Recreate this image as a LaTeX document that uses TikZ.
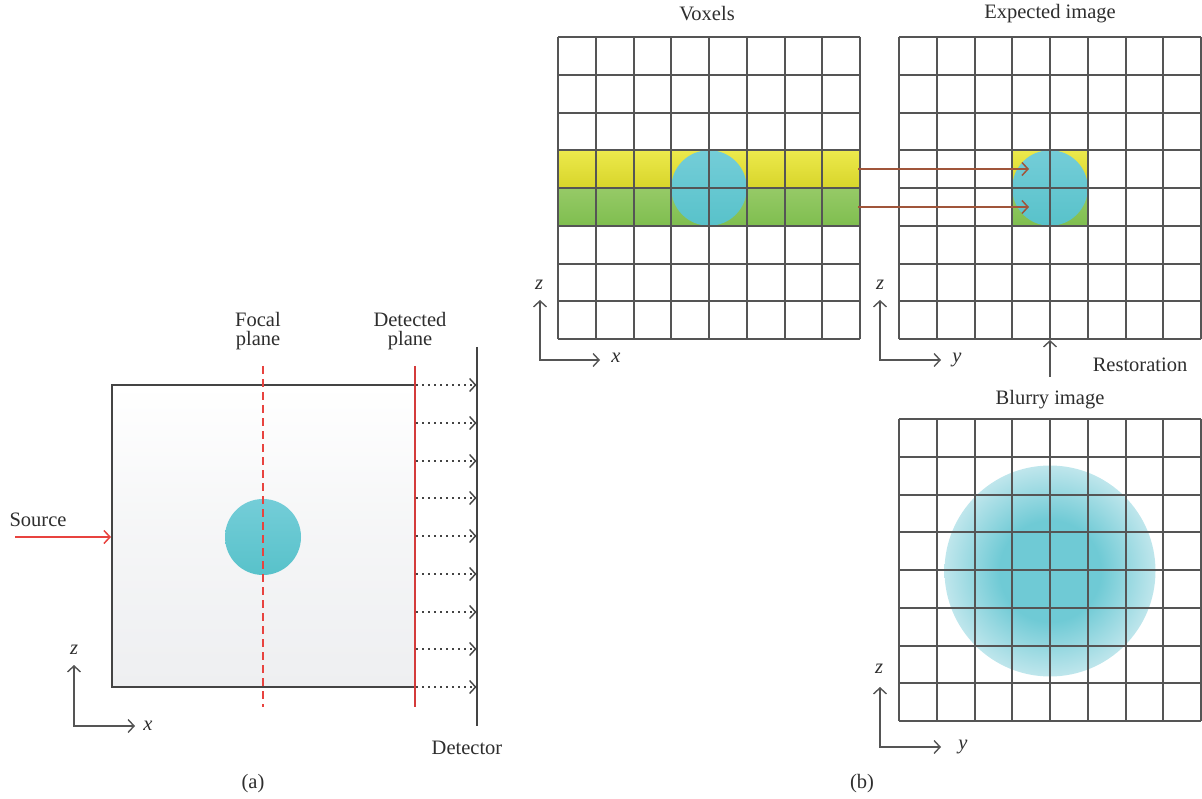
\documentclass[tikz,border=0pt]{standalone}
\usepackage{fontspec}
\setmainfont{Liberation Serif}
\usetikzlibrary{arrows.meta}
\definecolor{gridc}{HTML}{555555}
\definecolor{darkc}{HTML}{444444}
\definecolor{redc}{HTML}{E8433F}
\definecolor{redd}{HTML}{D43B3B}
\definecolor{brownc}{HTML}{A0553A}
\definecolor{tealtop}{HTML}{74CDD8}
\definecolor{tealbot}{HTML}{58C2CA}
\definecolor{yeltop}{HTML}{ECE94C}
\definecolor{yelbot}{HTML}{D8D52A}
\definecolor{grntop}{HTML}{96CA67}
\definecolor{grnbot}{HTML}{7FBE4F}
\definecolor{boxbot}{HTML}{EEEFF1}
\definecolor{blurin}{HTML}{6FCAD5}
\definecolor{blurout}{HTML}{BFE6EC}
\pgfdeclareradialshading{blurshade}{\pgfpoint{0bp}{0bp}}{color(0bp)=(blurin); color(12bp)=(blurin); color(25bp)=(blurout); color(50bp)=(blurout)}
\newcommand\vgrid[2]{%
  \foreach \i in {0,...,8} {
    \pgfmathsetmacro\gx{round(#1+\i*37.75)}
    \pgfmathsetmacro\gy{round(#2+\i*37.75)}
    \draw[gridline] (\gx,#2) -- (\gx,{#2+302});
    \draw[gridline] (#1,\gy) -- ({#1+302},\gy);
  }}
\begin{document}
\begin{tikzpicture}[x=1pt,y=-1pt,
  lbl/.style={font=\fontsize{20.5}{19}\selectfont, inner sep=0pt, text=black!82},
  gridline/.style={draw=gridc, line width=1.4pt},
  tip/.style={-{Straight Barb[length=6pt,width=13pt]}},
  axis/.style={draw=gridc, line width=1.4pt, {Straight Barb[length=6pt,width=13pt]}-{Straight Barb[length=6pt,width=13pt]}},
  dotarrow/.style={tip, draw=darkc, line width=1.4pt, dash pattern=on 1.8pt off 4.2pt},
  brarrow/.style={tip, draw=brownc, line width=1.5pt}]
\useasboundingbox (0,0) rectangle (1202,799);

% ---------- panel (a) ----------
\shade[top color=white, bottom color=boxbot, middle color=boxbot!60!white] (112,385) rectangle (415,687);
\draw[darkc, line width=1.6pt] (415,385) -- (112,385) -- (112,687) -- (415,687);
\shade[top color=tealtop, bottom color=tealbot] (263,537) circle (38pt);
\draw[redc, line width=1.5pt, dash pattern=on 8pt off 5pt] (263,366) -- (263,707);
\draw[redd, line width=1.8pt] (415,366) -- (415,707);
\draw[darkc, line width=1.6pt] (477,347) -- (477,726);
\foreach \k in {0,...,8} {
  \coordinate (ds\k) at (416,{round(385+\k*37.75)});
  \coordinate (de\k) at (476.5,{round(385+\k*37.75)});
  \draw[dotarrow] (ds\k) -- (de\k);
}
\coordinate (srcA) at (15,537);
\coordinate (srcB) at (111,537);
\draw[tip, redc, line width=1.5pt] (srcA) -- (srcB);
\node[lbl] (src) at (38,520) {Source};
\node[lbl, align=center] (focal) at (258,331) {Focal\\plane};
\node[lbl, align=center] (detp) at (410,331) {Detected\\plane};
\node[lbl] (detector) at (467,748) {Detector};
\node[lbl] (pa) at (253,784) {(a)};
\coordinate (ao) at (74,726);
\draw[axis] (74,665) -- (ao) -- (135,726);
\node[lbl] (az) at (74,650) {\textit{z}};
\node[lbl] (ax) at (148,726) {\textit{x}};

% ---------- Voxels ----------
\shade[top color=yeltop, bottom color=yelbot] (558,150.25) rectangle (860,188);
\shade[top color=grntop, bottom color=grnbot] (558,188) rectangle (860,225.75);
\shade[top color=tealtop, bottom color=tealbot] (709,188) circle (37.75pt);
\vgrid{558}{37}
\node[lbl] (vox) at (707,14) {Voxels};
\draw[axis] (540,300) -- (540,360) -- (600,360);
\node[lbl] (vz) at (539,285) {\textit{z}};
\node[lbl] (vx) at (616,358) {\textit{x}};

% ---------- Expected image ----------
\shade[top color=yeltop, bottom color=yelbot] (1012.25,150.25) rectangle (1087.75,188);
\shade[top color=grntop, bottom color=grnbot] (1012.25,188) rectangle (1087.75,225.75);
\shade[top color=tealtop, bottom color=tealbot] (1050,188) circle (37.75pt);
\vgrid{899}{37}
\node[lbl] (exp) at (1050,14) {Expected image};
\draw[axis] (880,300) -- (880,360) -- (941,360);
\node[lbl] (ez) at (880,285) {\textit{z}};
\node[lbl] (ey) at (957,360) {\textit{y}};
\coordinate (b1s) at (858,169);
\coordinate (b1e) at (1029,169);
\coordinate (b2s) at (858,207);
\coordinate (b2e) at (1029,207);
\draw[brarrow] (b1s) -- (b1e);
\draw[brarrow] (b2s) -- (b2e);

% ---------- Restoration ----------
\coordinate (rs) at (1050,377);
\coordinate (re) at (1050,340);
\draw[tip, gridc, line width=1.4pt] (rs) -- (re);
\node[lbl] (rest) at (1140,365) {Restoration};

% ---------- Blurry image ----------
\shade[shading=blurshade] (1050,571) circle (105.5pt);
\vgrid{899}{419}
\node[lbl] (blur) at (1050,400) {Blurry image};
\draw[axis] (880,687) -- (880,747) -- (941,747);
\node[lbl] (bz) at (879,669) {\textit{z}};
\node[lbl] (by) at (963,747) {\textit{y}};
\node[lbl] (pb) at (862,784) {(b)};
\end{tikzpicture}
\end{document}
